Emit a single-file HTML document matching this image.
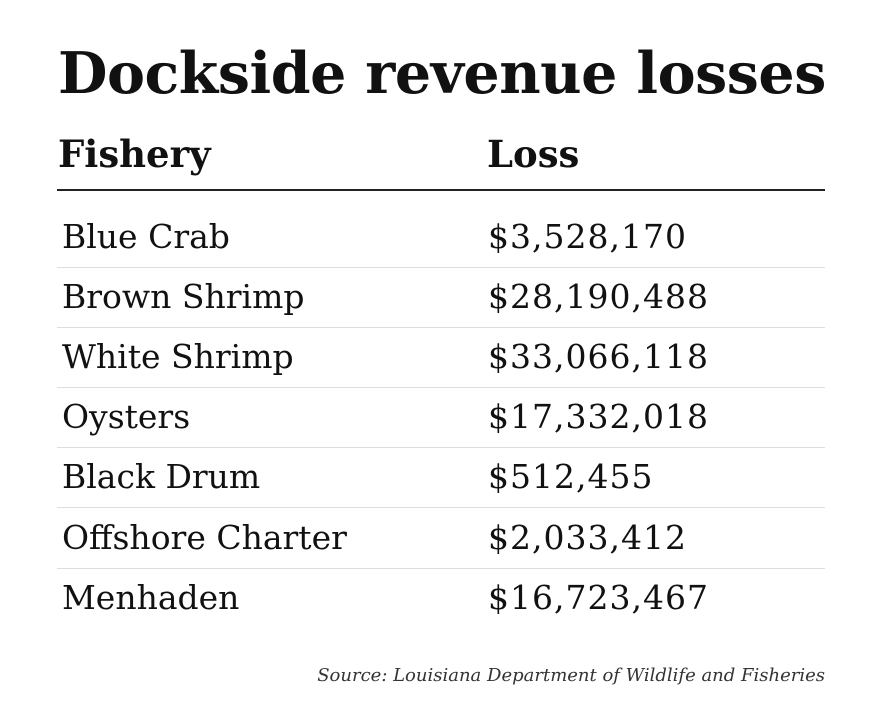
<!DOCTYPE html>
<html><head><meta charset="utf-8"><style>
body{margin:0;width:880px;height:716px;background:#fff;font-family:"DejaVu Serif","Liberation Serif",serif;color:#111;position:relative;overflow:hidden}
.a{position:absolute;white-space:nowrap}
h1{position:absolute;left:58px;top:45px;margin:0;font-size:57px;font-weight:bold;letter-spacing:-0.45px;line-height:1}
.hd{font-size:37px;font-weight:bold;top:136px;line-height:1}
.line{position:absolute;left:57px;width:768px;height:0}
.c{font-size:33px;line-height:1}
.src{right:55px;top:665px;font-size:18px;font-style:italic;color:#333}
</style></head><body>
<h1>Dockside revenue losses</h1>
<div class="a hd" style="left:58px">Fishery</div>
<div class="a hd" style="left:487px">Loss</div>
<div class="line" style="top:189px;border-top:2px solid #222"></div>
<div id="rows"></div>
<div class="a src">Source: Louisiana Department of Wildlife and Fisheries</div>
<script>
const fisheries=["Blue Crab","Brown Shrimp","White Shrimp","Oysters","Black Drum","Offshore Charter","Menhaden"];
const losses=["$3,528,170","$28,190,488","$33,066,118","$17,332,018","$512,455","$2,033,412","$16,723,467"];
const body=document.getElementById('rows');
const tops=[220,280,340,400,460,521,581];
fisheries.forEach((f,i)=>{
  const y=tops[i];
  const a=document.createElement('div');a.className='a c';a.style.left='62px';a.style.top=y+'px';a.textContent=f;
  
  
  body.appendChild(a);
  const b=document.createElement('div');b.className='a c';b.style.left='488px';b.style.top=y+'px';b.style.letterSpacing='1px';b.textContent=losses[i];
  
  
  body.appendChild(b);
  if(i<fisheries.length-1){
    const l=document.createElement('div');l.className='line';l.style.top=(y+47)+'px';l.style.borderTop='1px solid #ddd';
    
    
    body.appendChild(l);
  }
});
</script>
</body></html>
